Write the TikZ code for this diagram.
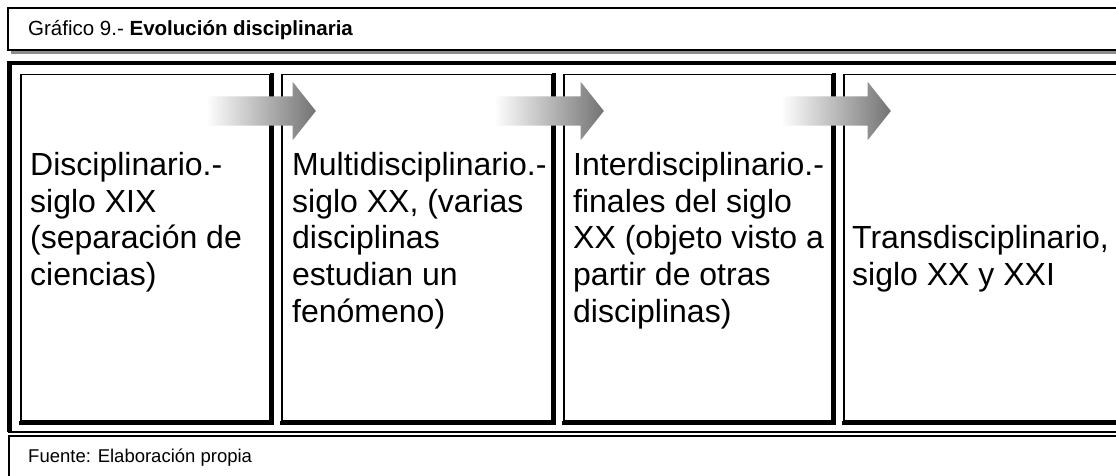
\documentclass[tikz,border=0pt]{standalone}
\usepackage{fontspec}
\setmainfont{Liberation Sans}
\usetikzlibrary{shapes.arrows}
\tikzset{
  caja/.style={draw, line width=1.5pt, fill=white, anchor=north west, inner sep=0, minimum height=346},
  borde/.style={line width=4.5pt},
  flecha/.style={single arrow, draw=none, left color=white, right color=black!55,
    minimum height=110, minimum width=58, single arrow head extend=14.5pt,
    single arrow tip angle=103, inner xsep=0, inner ysep=14.5pt},
  texto/.style={anchor=north west, align=left, inner sep=0, font=\fontsize{32}{36.8}\selectfont},
  chico/.style={anchor=west, inner sep=0, font=\fontsize{18.5}{22}\selectfont}
}
\begin{document}
\begin{tikzpicture}[x=1pt, y=-1pt]
\useasboundingbox (0,0) rectangle (1116,476);
% titulo
\fill[black!45] (11,12) rectangle (1140,54);
\draw[line width=1.2pt, fill=white] (8,8) rectangle (1140,50);
\node[chico, font=\fontsize{20.5}{24}\selectfont] (titulo) at (28,30) {Gráfico 9.- \textbf{Evolución disciplinaria}};
% marco
\draw[line width=4.5pt] (9.5,432) -- (9.5,63) -- (1140,63);
\draw[line width=2pt] (7.5,432) -- (1140,432);
% cajas
\node[caja, minimum width=249] (c1) at (20,74) {};
\node[caja, minimum width=270] (c2) at (281,74) {};
\node[caja, minimum width=268] (c3) at (563,74) {};
\node[caja, minimum width=300] (c4) at (843,74) {};
\foreach \c in {c1,c2,c3,c4}
  \draw[borde] ([shift={(1.5,-0.75)}]\c.north east) -- ([shift={(1.5,1.5)}]\c.south east)
    -- ([shift={(-0.75,1.5)}]\c.south west);
% flechas
\node[flecha] (f1) at (255,111) {};
\node[flecha] (f2) at (543,111) {};
\node[flecha] (f3) at (830,111) {};
% textos
\node[texto] (t1) at (30,152) {Disciplinario.-\\siglo XIX\\(separación de\\ciencias)};
\node[texto] (t2) at (292,152) {Multidisciplinario.-\\siglo XX, (varias\\disciplinas\\estudian un\\fenómeno)};
\node[texto] (t3) at (573,152) {Interdisciplinario.-\\finales del siglo\\XX (objeto visto a\\partir de otras\\disciplinas)};
\node[texto] (t4) at (852,225) {Transdisciplinario,\\siglo XX y XXI};
% fuente
\draw[line width=1.2pt] (9,490) |- (1140,436);
\node[chico] (fuente) at (28,458) {Fuente: Elaboración propia};
\end{tikzpicture}
\end{document}
